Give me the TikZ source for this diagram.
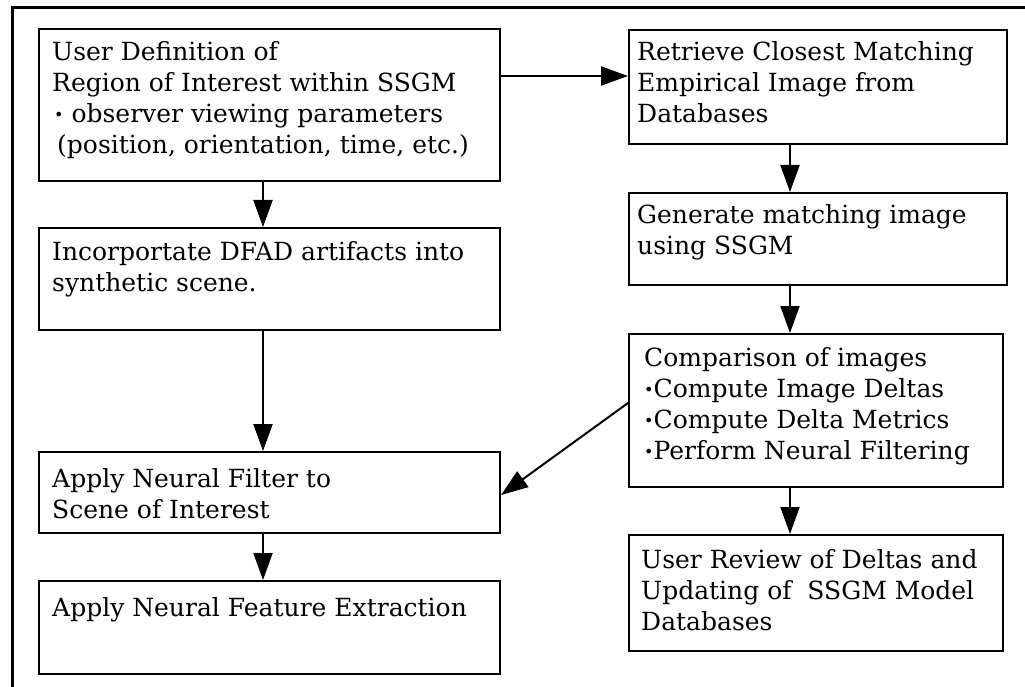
\documentclass[tikz,border=0pt]{standalone}
\usepackage{fontspec}
\setmainfont{DejaVu Serif}
\usetikzlibrary{arrows.meta,calc}
\newcommand{\bul}{{\fontsize{16}{16}\selectfont\raisebox{1.5pt}{•}}}
\begin{document}
\begin{tikzpicture}[x=1pt,y=-1pt,
  box/.style={draw, line width=2pt, anchor=north west, inner sep=0pt},
  txt/.style={anchor=north west, inner sep=0pt, align=left, font=\fontsize{25}{31}\selectfont},
  arr/.style={line width=2pt, -{Triangle[length=27pt,width=19pt]}},
  frame/.style={line width=3pt}]
\useasboundingbox (0,0) rectangle (1025,687);
% outer frame (left and top edges)
\draw[frame] (12,687) -- (12,8) -- (1025,8);
% boxes
\node[box, minimum width=461pt, minimum height=152pt] (A) at (38,28) {};
\node[box, minimum width=461pt, minimum height=102pt] (B) at (38,227) {};
\node[box, minimum width=461pt, minimum height=81pt]  (C) at (38,451) {};
\node[box, minimum width=461pt, minimum height=93pt]  (D) at (38,580) {};
\node[box, minimum width=378pt, minimum height=114pt] (E) at (628,29) {};
\node[box, minimum width=378pt, minimum height=92pt]  (F) at (628,192) {};
\node[box, minimum width=374pt, minimum height=153pt] (G) at (628,333) {};
\node[box, minimum width=374pt, minimum height=116pt] (H) at (628,534) {};
% texts
\node[txt] (tA) at (52,41) {User Definition of\\Region of Interest within SSGM\\\hspace{2pt}\bul\ observer viewing parameters\\\hspace{5pt}(position, orientation, time, etc.)};
\node[txt] (tB) at (52,241) {Incorportate DFAD artifacts into\\synthetic scene.};
\node[txt] (tC) at (52,468) {Apply Neural Filter to\\Scene of Interest};
\node[txt] (tD) at (52,597) {Apply Neural Feature Extraction};
\node[txt] (tE) at (637,41) {Retrieve Closest Matching\\Empirical Image from\\Databases};
\node[txt] (tF) at (637,204) {Generate matching image\\using SSGM};
\node[txt] (tG) at (644,347) {Comparison of images\\\bul Compute Image Deltas\\\bul Compute Delta Metrics\\\bul Perform Neural Filtering};
\node[txt] (tH) at (641,549) {User Review of Deltas and\\Updating of\ \ SSGM Model\\Databases};
% helper coordinates
\coordinate (lx) at (263,0);
\coordinate (rx) at (790,0);
\coordinate (ay) at (0,76);
\coordinate (gy) at (0,403);
\coordinate (cy) at (0,495);
% connectors
\draw[arr] (A.east |- ay) -- (E.west |- ay);
\draw[arr] (A.south -| lx) -- (B.north -| lx);
\draw[arr] (B.south -| lx) -- (C.north -| lx);
\draw[arr] (C.south -| lx) -- (D.north -| lx);
\draw[arr] (E.south -| rx) -- (F.north -| rx);
\draw[arr] (F.south -| rx) -- (G.north -| rx);
\draw[arr] (G.south -| rx) -- (H.north -| rx);
\draw[arr] (G.west |- gy) -- (C.east |- cy);
\end{tikzpicture}
\end{document}
